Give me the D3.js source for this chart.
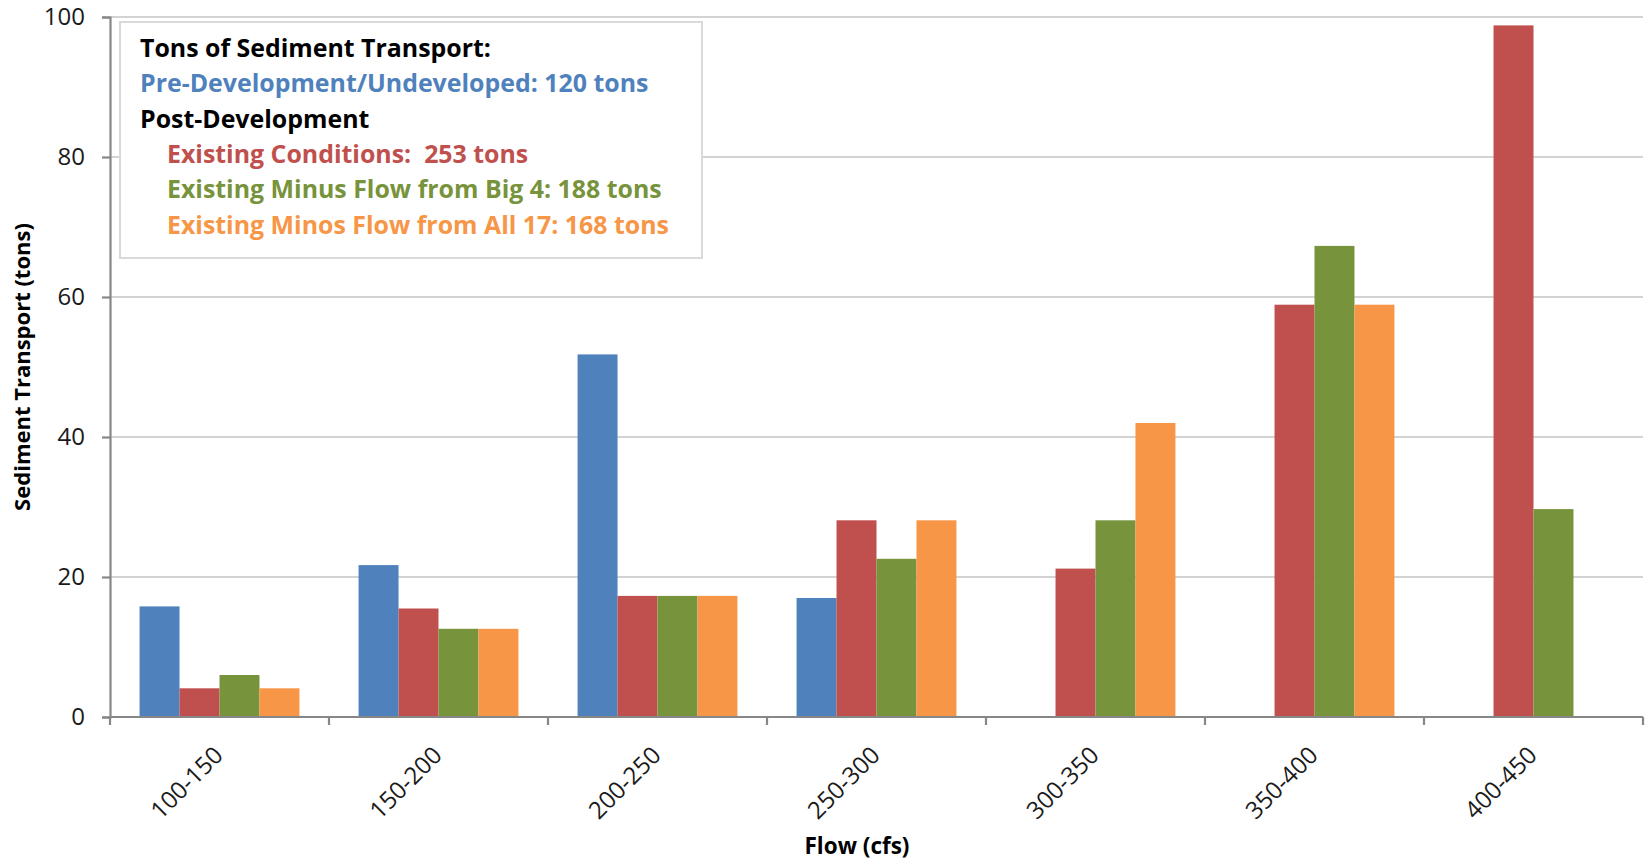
<!DOCTYPE html>
<html>
<head>
<meta charset="utf-8">
<script src="https://cdn.jsdelivr.net/npm/d3@7"></script>
<style>
  html, body { margin: 0; padding: 0; background: #fff; }
  svg { display: block; }
  .note { white-space: pre; }
</style>
</head>
<body>
<svg id="chart" width="1648" height="860"></svg>
<script>
// Flow classes on the x axis
const categories = ["100-150", "150-200", "200-250", "250-300", "300-350", "350-400", "400-450"];

// Sediment transport (tons) per flow class, one array per scenario
const preDevelopment     = [15.8, 21.7, 51.8, 17.0, null, null, null];
const existingConditions = [4.1, 15.5, 17.3, 28.1, 21.2, 58.9, 98.8];
const minusBig4          = [6.0, 12.6, 17.3, 22.6, 28.1, 67.3, 29.7];
const minusAll17         = [4.1, 12.6, 17.3, 28.1, 42.0, 58.9, null];

const seriesKeys = ["pre", "existing", "big4", "all17"];
const seriesValues = [preDevelopment, existingConditions, minusBig4, minusAll17];
const seriesColors = ["#4F81BD", "#C0504D", "#77933C", "#F79646"];

const yTicks = [0, 20, 40, 60, 80, 100];

// Text box lines: [text, color, indented]
const noteLines = [
  ["Tons of Sediment Transport:", "#000000", false],
  ["Pre-Development/Undeveloped: 120 tons", "#4F81BD", false],
  ["Post-Development", "#000000", false],
  ["Existing Conditions:  253 tons", "#C0504D", true],
  ["Existing Minus Flow from Big 4: 188 tons", "#77933C", true],
  ["Existing Minos Flow from All 17: 168 tons", "#F79646", true]
];

const svg = d3.select("#chart");
const margin = { top: 17, right: 5, bottom: 143, left: 110 };
const width = 1648 - margin.left - margin.right;
const height = 860 - margin.top - margin.bottom;

const g = svg.append("g").attr("transform", `translate(${margin.left},${margin.top})`);

const x0 = d3.scaleBand().domain(categories).range([0, width])
  .paddingInner(0.27).paddingOuter(0.135);
const x1 = d3.scaleBand().domain(seriesKeys).range([0, x0.bandwidth()]);
const y = d3.scaleLinear().domain([0, 100]).range([height, 0]);

const font = "'Open Sans', 'DejaVu Sans', sans-serif";

// Horizontal gridlines
g.append("g")
  .selectAll("line")
  .data(yTicks.filter(t => t > 0))
  .join("line")
  .attr("x1", 0).attr("x2", width)
  .attr("y1", d => y(d)).attr("y2", d => y(d))
  .attr("stroke", "#C4C4C4").attr("stroke-width", 1.6);

// Bars
const rows = categories.map((c, i) => ({
  cat: c,
  vals: seriesKeys.map((k, j) => ({ key: k, value: seriesValues[j][i], color: seriesColors[j] }))
}));

g.append("g")
  .selectAll("g")
  .data(rows)
  .join("g")
  .attr("transform", d => `translate(${x0(d.cat)},0)`)
  .selectAll("rect")
  .data(d => d.vals.filter(v => v.value != null))
  .join("rect")
  .attr("x", d => x1(d.key))
  .attr("width", x1.bandwidth())
  .attr("y", d => y(d.value))
  .attr("height", d => y(0) - y(d.value))
  .attr("fill", d => d.color);

// Y axis
const yAxis = g.append("g")
  .call(d3.axisLeft(y).tickValues(yTicks).tickSize(8).tickPadding(17).tickFormat(d3.format("d")));
yAxis.select(".domain").attr("stroke", "#878787").attr("stroke-width", 2.2);
yAxis.selectAll(".tick line").attr("stroke", "#878787").attr("stroke-width", 2.2);
yAxis.selectAll(".tick text")
  .attr("font-family", font).attr("font-size", 24).attr("fill", "#1a1a1a");

// X axis: ticks between categories
const xAxisG = g.append("g").attr("transform", `translate(0,${height})`);
xAxisG.append("line")
  .attr("x1", 0).attr("x2", width).attr("y1", 0).attr("y2", 0)
  .attr("stroke", "#878787").attr("stroke-width", 2.2);
const boundaries = categories.map(c => x0(c) - x0.step() * x0.paddingInner() / 2)
  .concat([width]);
xAxisG.selectAll(".bt")
  .data(boundaries)
  .join("line")
  .attr("class", "bt")
  .attr("x1", d => d).attr("x2", d => d)
  .attr("y1", 0).attr("y2", 8)
  .attr("stroke", "#878787").attr("stroke-width", 2.2);
xAxisG.selectAll(".cl")
  .data(categories)
  .join("text")
  .attr("class", "cl")
  .attr("transform", d => `translate(${x0(d) + x0.bandwidth() / 2 - 7},${28}) rotate(-45)`)
  .attr("text-anchor", "end")
  .attr("dy", "0.7em")
  .attr("font-family", font).attr("font-size", 24).attr("fill", "#1a1a1a")
  .text(d => d);

// Axis titles
svg.append("text")
  .attr("transform", `translate(30,${margin.top + height / 2}) rotate(-90)`)
  .attr("text-anchor", "middle")
  .attr("font-family", font).attr("font-size", 22).attr("font-weight", 700)
  .attr("fill", "#000")
  .text("Sediment Transport (tons)");

svg.append("text")
  .attr("x", 857).attr("y", 854)
  .attr("text-anchor", "middle")
  .attr("font-family", font).attr("font-size", 22.5).attr("font-weight", 700)
  .attr("fill", "#000")
  .text("Flow (cfs)");

// Summary text box
const box = svg.append("g").attr("transform", "translate(120,22)");
box.append("rect")
  .attr("width", 582).attr("height", 236)
  .attr("fill", "#fff").attr("stroke", "#D9D9D9").attr("stroke-width", 2);
box.selectAll("text")
  .data(noteLines)
  .join("text")
  .attr("class", "note")
  .attr("x", d => d[2] ? 47 : 20)
  .attr("y", (d, i) => 35 + i * 35.3)
  .attr("font-family", font).attr("font-size", 24.9).attr("font-weight", 700)
  .attr("fill", d => d[1])
  .text(d => d[0]);
</script>
</body>
</html>
